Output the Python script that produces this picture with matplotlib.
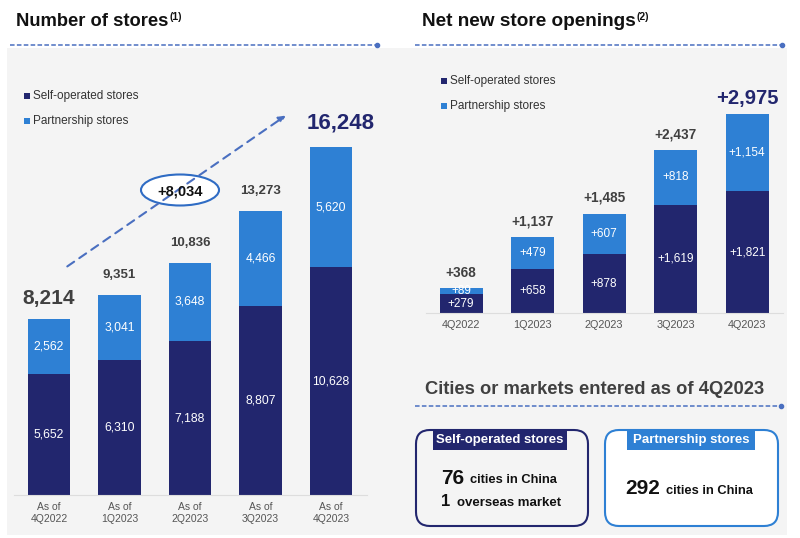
import matplotlib
matplotlib.use("Agg")
import matplotlib.pyplot as plt
from matplotlib.patches import Rectangle, Ellipse, FancyBboxPatch

plt.rcParams['font.family'] = ['Liberation Sans', 'DejaVu Sans']

NAVY = '#22266e'
BLUE = '#2e80d4'
DASH = '#4a6fc0'
GRAY_TXT = '#404040'

# data
store_labels = ['As of\n4Q2022', 'As of\n1Q2023', 'As of\n2Q2023', 'As of\n3Q2023', 'As of\n4Q2023']
self_stores = [5652, 6310, 7188, 8807, 10628]
partner_stores = [2562, 3041, 3648, 4466, 5620]
total_stores = [8214, 9351, 10836, 13273, 16248]

open_labels = ['4Q2022', '1Q2023', '2Q2023', '3Q2023', '4Q2023']
self_open = [279, 658, 878, 1619, 1821]
partner_open = [89, 479, 607, 818, 1154]
total_open = [368, 1137, 1485, 2437, 2975]

W, H = 800, 538
fig = plt.figure(figsize=(W / 100, H / 100), dpi=100)
fig.patch.set_facecolor('white')

# background axes in pixel coords
bg = fig.add_axes([0, 0, 1, 1], zorder=0)
bg.set_xlim(0, W)
bg.set_ylim(H, 0)
bg.axis('off')
bg.add_patch(Rectangle((7, 48), 780, 487, color='#f4f4f4', lw=0))
renderer = fig.canvas.get_renderer()


def dashed_rule(x0, x1, y):
    bg.plot([x0, x1], [y, y], ls=(0, (3, 1.5)), color=DASH, lw=1.1)
    bg.plot([x1], [y], 'o', color=DASH, ms=3)


def title_with_note(x, y, s, note, fs):
    t = bg.text(x, y, s, fontsize=fs, fontweight='bold', va='center', color='#111111')
    bb = t.get_window_extent(renderer=renderer)
    bg.text(bb.x1 + 1, H - (y - 5), note, fontsize=7.5, fontweight='bold', va='center',
            color='#111111', transform=None)


title_with_note(16, 22, 'Number of stores', '(1)', 13.2)
dashed_rule(10, 377, 45)
title_with_note(422, 22, 'Net new store openings', '(2)', 13.7)
dashed_rule(415, 782, 45)

# legends
for lx, ly in [(27, 96), (444, 81)]:
    bg.add_patch(Rectangle((lx - 3, ly - 3), 6, 6, color=NAVY, lw=0))
    bg.text(lx + 6, ly, 'Self-operated stores', fontsize=8.5, va='center', color='#333333')
    bg.add_patch(Rectangle((lx - 3, ly + 22), 6, 6, color=BLUE, lw=0))
    bg.text(lx + 6, ly + 25, 'Partnership stores', fontsize=8.5, va='center', color='#333333')

# growth arrow
bg.annotate('', xy=(288, 114), xytext=(65, 268),
            arrowprops=dict(arrowstyle='-|>', ls=(0, (4, 3)), color=DASH, lw=1.5,
                            mutation_scale=10))
bg.add_patch(Ellipse((180, 190), 78, 31, facecolor='white', edgecolor='#2f6cc4', lw=1.5))
bg.text(180, 191, '+8,034', fontsize=10.5, fontweight='bold', ha='center', va='center', color='#111111')


def bar_panel(rect, xl, xr, ytop, labels, lo, hi, tot, fmt, in_fs, tick_fs,
              tot_fs, big_fs, big_dx, big_dy, first_big):
    ax = fig.add_axes(rect, zorder=1)
    ax.patch.set_alpha(0)
    x = list(range(len(labels)))
    ax.bar(x, lo, width=0.6, color=NAVY)
    ax.bar(x, hi, width=0.6, bottom=lo, color=BLUE)
    ax.set_xlim(xl, xr)
    ax.set_ylim(0, ytop)
    for s in ['top', 'right', 'left']:
        ax.spines[s].set_visible(False)
    ax.spines['bottom'].set_color('#dddddd')
    ax.set_yticks([])
    ax.set_xticks(x)
    ax.set_xticklabels(labels, fontsize=tick_fs, color='#555555', linespacing=1.25)
    ax.tick_params(axis='x', length=0, pad=5)
    for i in x:
        ax.text(i, lo[i] / 2, fmt(lo[i]), ha='center', va='center', color='white', fontsize=in_fs)
        ax.text(i, lo[i] + hi[i] / 2, fmt(hi[i]), ha='center', va='center', color='white', fontsize=in_fs)
        last = i == len(x) - 1
        if last:
            ax.text(i + big_dx, tot[i] + big_dy, fmt(tot[i]), ha='center', va='bottom',
                    color=NAVY, fontsize=big_fs, fontweight='bold')
        elif i == 0 and first_big:
            ax.text(i, tot[i] + ytop * 0.028, fmt(tot[i]), ha='center', va='bottom',
                    color=GRAY_TXT, fontsize=15, fontweight='bold')
        else:
            ax.text(i, tot[i] + ytop * 0.035, fmt(tot[i]), ha='center', va='bottom',
                    color=GRAY_TXT, fontsize=tot_fs, fontweight='bold')
    return ax


# left panel: baseline at y=495 px, 0.02142 px per store
ax1 = bar_panel([14 / W, 1 - 495 / H, (367 - 14) / W, (495 - 100) / H],
                -0.496, 4.51, (495 - 100) / 0.02142, store_labels,
                self_stores, partner_stores, total_stores, lambda v: f'{v:,}',
                8.7, 7.5, 9.5, 16, 0.13, 650, True)

# right panel: baseline at y=313 px
ax2 = bar_panel([426 / W, 1 - 313 / H, (783 - 426) / W, (313 - 60) / H],
                -0.49, 4.5, (313 - 60) / 0.0669, open_labels,
                self_open, partner_open, total_open, lambda v: f'+{v:,}',
                8.5, 7.8, 9.8, 14.5, 0.0, 90, False)

# cities section
bg.text(595, 389, 'Cities or markets entered as of 4Q2023', fontsize=13.2, fontweight='bold',
        ha='center', va='center', color=GRAY_TXT)
dashed_rule(415, 781, 406)

bg.add_patch(FancyBboxPatch((416, 430), 172, 96, boxstyle='round,pad=0,rounding_size=14',
                            facecolor='#f4f4f4', edgecolor=NAVY, lw=1.5))
bg.add_patch(Rectangle((433, 429), 134, 21, color=NAVY, lw=0))
bg.text(500, 440, 'Self-operated stores', fontsize=9.5, fontweight='bold', color='white',
        ha='center', va='center')
bg.text(441, 479, '76', fontsize=15, fontweight='bold', va='center', color='#111111')
bg.text(470, 480, 'cities in China', fontsize=9.3, fontweight='bold', va='center', color='#111111')
bg.text(441, 502, '1', fontsize=12, fontweight='bold', va='center', color='#111111')
bg.text(457, 503, 'overseas market', fontsize=9.5, fontweight='bold', va='center', color='#111111')

bg.add_patch(FancyBboxPatch((605, 430), 173, 96, boxstyle='round,pad=0,rounding_size=14',
                            facecolor='white', edgecolor=BLUE, lw=1.5))
bg.add_patch(Rectangle((627, 429), 128, 21, color=BLUE, lw=0))
bg.text(691, 440, 'Partnership stores', fontsize=9.5, fontweight='bold', color='white',
        ha='center', va='center')
bg.text(625, 489, '292', fontsize=15, fontweight='bold', va='center', color='#111111')
bg.text(666, 491, 'cities in China', fontsize=9.3, fontweight='bold', va='center', color='#111111')

fig.savefig('out.png', dpi=100)
